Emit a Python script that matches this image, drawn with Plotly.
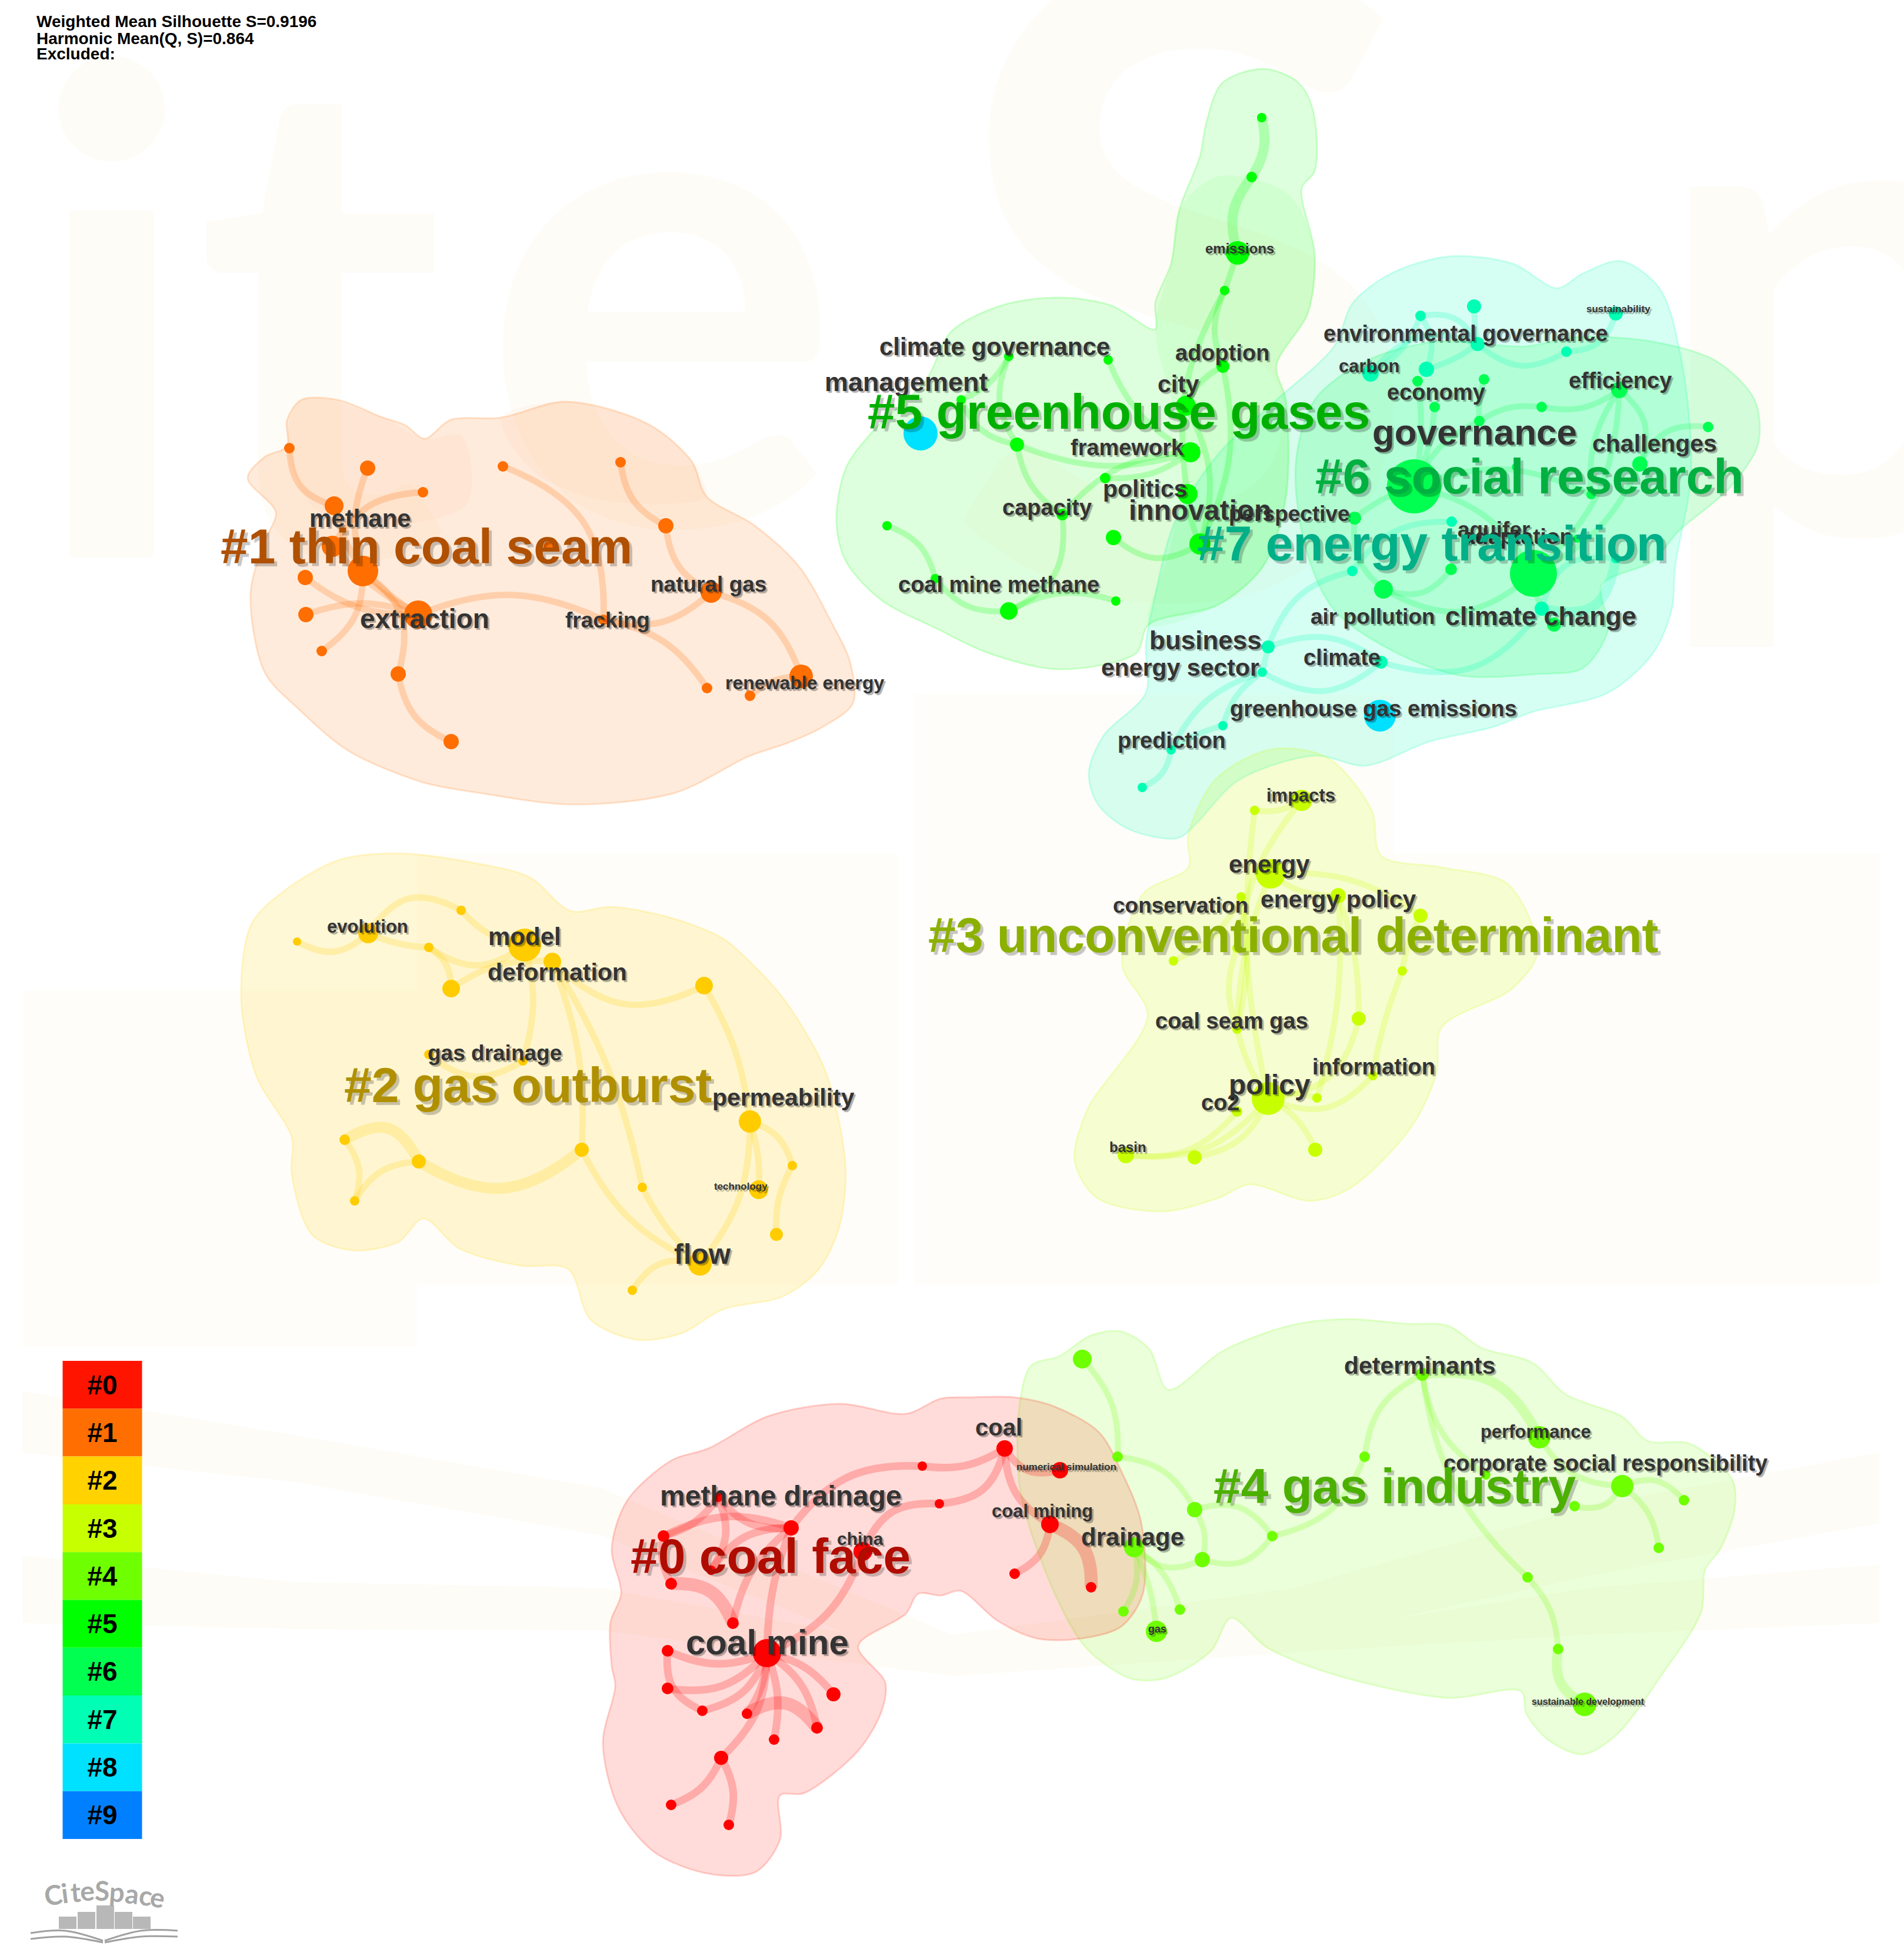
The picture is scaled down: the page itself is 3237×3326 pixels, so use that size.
import plotly.graph_objects as go

WIDTH = 3237
HEIGHT = 3326

# ---- cluster 0 (red) : nodes, links, hull
c0_x = [1304, 1345, 1128, 1141, 1246, 1209, 1221, 1135, 1135, 1194, 1270, 1316, 1389, 1417, 1226, 1141, 1239, 1467, 1568, 1597, 1708, 1802, 1785, 1725, 1855]
c0_y = [2811, 2598, 2612, 2693, 2760, 2670, 2546, 2807, 2871, 2909, 2914, 2958, 2938, 2881, 2989, 3069, 3103, 2638, 2493, 2557, 2463, 2500, 2592, 2676, 2699]
c0_r = [24, 13, 10, 10, 10, 8, 8, 10, 10, 9, 9, 9, 10, 12, 12, 9, 9, 16, 8, 8, 14, 14, 15, 9, 9]
c0_src = [0, 0, 0, 0, 0, 0, 0, 0, 7, 10, 14, 14, 4, 4, 2, 2, 6, 5, 5, 3, 0, 1, 18, 19, 17, 19, 20, 20, 22, 22]
c0_dst = [7, 8, 9, 10, 11, 12, 13, 14, 9, 12, 15, 16, 3, 1, 1, 6, 1, 1, 6, 2, 1, 18, 20, 17, 0, 20, 21, 22, 23, 24]
c0_bend = [-.12, -.15, -.15, -.08, -.08, -.12, -.1, -.12, .2, -.25, -.12, -.12, .2, -.1, -.12, .1, .15, -.15, .15, -.1, -.05, -.15, .1, .2, -.12, .2, .2, .15, -.15, -.2]
c0_heavy = [9, 12, 29]
c0_hull_x = [1040, 1066, 1142, 1204, 1306, 1428, 1540, 1600, 1648, 1724, 1791, 1868, 1906, 1940, 1943, 1906, 1839, 1763, 1696, 1633, 1600, 1561, 1540, 1459, 1505, 1499, 1459, 1367, 1326, 1326, 1285, 1204, 1112, 1051, 1025, 1046, 1040, 1038, 1056]
c0_hull_y = [2634, 2552, 2483, 2463, 2408, 2387, 2404, 2378, 2376, 2376, 2391, 2435, 2501, 2588, 2710, 2766, 2786, 2786, 2756, 2705, 2713, 2710, 2744, 2799, 2861, 2909, 2977, 3049, 3053, 3128, 3183, 3186, 3149, 3073, 2963, 2867, 2833, 2758, 2710]

# ---- cluster 1 (orange)
c1_x = [492, 625, 719, 568, 565, 617, 519, 520, 547, 711, 677, 767, 855, 1055, 1132, 1209, 1026, 1202, 1275, 1362, 933]
c1_y = [762, 796, 837, 860, 929, 971, 982, 1045, 1107, 1045, 1146, 1261, 793, 786, 894, 1007, 1054, 1170, 1183, 1150, 929]
c1_r = [9, 13, 9, 16, 18, 26, 13, 13, 9, 24, 13, 13, 9, 9, 13, 18, 9, 9, 9, 20, 9]
c1_src = [0, 1, 2, 3, 4, 5, 6, 7, 8, 5, 10, 9, 12, 16, 16, 13, 14, 15, 18]
c1_dst = [3, 5, 4, 5, 9, 9, 9, 9, 5, 10, 11, 16, 16, 17, 15, 14, 15, 19, 19]
c1_bend = [.2, .1, .15, .05, .05, .03, .1, -.1, .15, -.2, .15, -.12, -.2, -.12, .15, .15, .15, -.15, -.1]
c1_heavy = []
c1_hull_x = [512, 574, 651, 689, 722, 766, 852, 957, 1053, 1120, 1177, 1201, 1282, 1359, 1416, 1445, 1450, 1397, 1340, 1273, 1148, 976, 813, 718, 593, 507, 450, 426, 450, 469, 421, 450, 488, 488]
c1_hull_y = [680, 680, 710, 723, 746, 714, 710, 683, 701, 732, 786, 844, 893, 964, 1063, 1125, 1196, 1237, 1263, 1286, 1348, 1368, 1348, 1330, 1277, 1205, 1143, 1009, 920, 871, 813, 777, 759, 714]
c1_lobe_a_x = [512, 651, 722, 785, 794, 651, 536, 488]
c1_lobe_a_y = [680, 710, 746, 741, 857, 893, 866, 759]
c1_lobe_b_x = [852, 957, 1053, 1120, 1177, 1201, 1129, 1014, 909]
c1_lobe_b_y = [710, 683, 701, 732, 786, 844, 857, 848, 804]

# ---- cluster 2 (yellow)
c2_x = [505, 626, 784, 729, 892, 939, 767, 1197, 889, 729, 1275, 1347, 1290, 1320, 1190, 1075, 1092, 989, 712, 586, 603]
c2_y = [1601, 1587, 1548, 1611, 1607, 1635, 1681, 1676, 1804, 1793, 1907, 1982, 2023, 2099, 2149, 2194, 2019, 1955, 1975, 1938, 2042]
c2_r = [7, 17, 8, 8, 28, 15, 15, 15, 8, 8, 19, 8, 16, 11, 20, 8, 8, 12, 12, 9, 8]
c2_src = [0, 1, 1, 3, 2, 3, 6, 5, 4, 8, 5, 7, 10, 10, 10, 11, 17, 5, 16, 15, 17, 18, 19, 18]
c2_dst = [1, 2, 3, 4, 4, 6, 5, 7, 8, 9, 17, 10, 14, 12, 11, 13, 14, 16, 14, 14, 18, 19, 20, 20]
c2_bend = [.2, -.25, .05, .2, .1, -.15, -.1, .2, -.08, -.2, -.06, -.06, -.1, -.05, -.15, .08, .1, -.05, .05, -.2, -.2, .3, -.15, .15]
c2_heavy = [20, 21]
c2_hull_x = [479, 574, 677, 815, 901, 970, 1039, 1142, 1228, 1263, 1332, 1400, 1426, 1438, 1426, 1392, 1332, 1228, 1159, 1082, 1004, 966, 884, 781, 720, 677, 600, 531, 496, 496, 436, 410, 427]
c2_hull_y = [1518, 1463, 1451, 1469, 1492, 1549, 1542, 1561, 1595, 1624, 1698, 1813, 1905, 1997, 2089, 2158, 2204, 2227, 2267, 2278, 2244, 2158, 2152, 2123, 2072, 2112, 2126, 2100, 1997, 1934, 1830, 1698, 1572]

# ---- cluster 3 (lime)
c3_x = [2160, 2213, 2133, 2110, 2275, 2415, 2103, 1995, 2384, 2310, 2103, 2156, 2239, 2334, 2103, 1914, 2031, 2236]
c3_y = [1486, 1361, 1378, 1525, 1523, 1557, 1612, 1634, 1651, 1732, 1750, 1868, 1867, 1829, 1890, 1964, 1968, 1955]
c3_r = [25, 18, 8, 8, 13, 12, 8, 8, 8, 12, 8, 28, 8, 8, 9, 14, 12, 12]
c3_src = [1, 2, 1, 0, 4, 0, 5, 8, 9, 6, 10, 0, 3, 7, 11, 14, 11, 11, 13, 12, 4]
c3_dst = [2, 11, 6, 4, 12, 5, 8, 13, 11, 10, 11, 10, 10, 3, 15, 15, 16, 17, 11, 11, 9]
c3_bend = [-.1, .05, .08, .1, -.05, -.1, .05, .03, -.2, .1, .05, .05, -.06, .1, -.15, -.15, -.15, -.1, -.2, .1, -.05]
c3_heavy = []
c3_hull_x = [2020, 2067, 2162, 2258, 2332, 2348, 2451, 2563, 2614, 2571, 2451, 2442, 2399, 2296, 2227, 2124, 2072, 1977, 1865, 1827, 1848, 1951, 1908, 1943, 2020]
c3_hull_y = [1420, 1325, 1274, 1289, 1378, 1455, 1475, 1503, 1618, 1681, 1747, 1825, 1917, 2020, 2042, 2014, 2037, 2060, 2037, 1974, 1888, 1727, 1641, 1520, 1475]

# ---- cluster 4 (yellow green)
c4_x = [1840, 1900, 2031, 1928, 2044, 2163, 2320, 2418, 2617, 2526, 2758, 2677, 2863, 2820, 2597, 2649, 2694, 1910, 2006, 1966]
c4_y = [2311, 2477, 2567, 2631, 2652, 2612, 2477, 2337, 2444, 2508, 2527, 2561, 2551, 2632, 2682, 2804, 2898, 2740, 2737, 2774]
c4_r = [16, 9, 13, 17, 13, 9, 9, 11, 19, 8, 19, 9, 9, 9, 9, 9, 20, 9, 9, 18]
c4_src = [0, 1, 2, 2, 3, 4, 5, 6, 7, 7, 8, 7, 14, 15, 10, 10, 10, 3, 3, 3]
c4_dst = [1, 2, 4, 5, 4, 5, 6, 7, 8, 9, 10, 14, 15, 16, 11, 12, 13, 17, 18, 19]
c4_bend = [-.12, -.15, -.12, -.2, .2, .2, .15, -.15, -.2, .12, .15, .1, -.1, .2, -.2, -.2, -.12, -.12, -.1, -.05]
c4_heavy = [8, 13]
c4_hull_x = [1734, 1753, 1801, 1854, 1906, 1954, 1986, 2079, 2193, 2289, 2394, 2461, 2519, 2605, 2662, 2758, 2801, 2873, 2945, 2949, 2925, 2899, 2892, 2825, 2748, 2691, 2634, 2595, 2586, 2461, 2270, 2155, 2093, 2059, 1983, 1925, 1868, 1834, 1782, 1734]
c4_hull_y = [2384, 2322, 2306, 2271, 2264, 2294, 2363, 2297, 2254, 2243, 2251, 2254, 2292, 2317, 2371, 2409, 2450, 2455, 2516, 2567, 2633, 2669, 2741, 2848, 2950, 2983, 2960, 2914, 2876, 2887, 2848, 2802, 2751, 2807, 2853, 2855, 2822, 2786, 2684, 2531]

# ---- cluster 5 (green)
c5_x = [2145, 2128, 2104, 2082, 2079, 2016, 1715, 1884, 1634, 1729, 2024, 2019, 1879, 1806, 1893, 2040, 1508, 1590, 1715, 1897]
c5_y = [200, 301, 430, 494, 623, 690, 606, 612, 680, 756, 769, 840, 813, 875, 914, 925, 894, 984, 1039, 1022]
c5_r = [8, 9, 20, 8, 11, 17, 8, 8, 8, 12, 17, 17, 9, 10, 13, 18, 8, 8, 15, 8]
c5_src = [0, 1, 2, 3, 4, 3, 5, 4, 6, 6, 8, 9, 7, 9, 12, 13, 13, 16, 17, 18, 14, 11]
c5_dst = [1, 2, 3, 4, 15, 11, 15, 5, 8, 9, 9, 10, 10, 13, 10, 10, 18, 17, 18, 19, 15, 15]
c5_bend = [-.12, .15, 0, .12, -.1, .1, -.12, .1, -.1, .15, .15, .1, .1, .12, .1, -.12, -.2, -.15, .15, -.12, .2, .05]
c5_heavy = [0, 1]
c5_hull_x = [1422, 1438, 1487, 1574, 1617, 1704, 1801, 1888, 1964, 1964, 1991, 2005, 2040, 2051, 2078, 2148, 2208, 2233, 2235, 2213, 2235, 2224, 2170, 2186, 2186, 2148, 2072, 1953, 1931, 1801, 1682, 1595, 1498, 1438]
c5_hull_y = [888, 796, 730, 647, 564, 519, 506, 519, 560, 515, 448, 357, 266, 208, 141, 117, 141, 191, 291, 320, 432, 531, 622, 680, 846, 962, 1028, 1062, 1111, 1138, 1111, 1070, 1020, 954]
c5_lobe_x = [1964, 1991, 2005, 2070, 2190, 2235, 2224, 2170, 2186, 2186, 2148, 2072, 1953, 1990, 2010]
c5_lobe_y = [560, 448, 357, 300, 330, 432, 531, 622, 680, 846, 962, 1028, 1062, 930, 760]

# ---- cluster 6 (spring green)
c6_x = [2404, 2607, 2352, 2467, 2410, 2523, 2439, 2515, 2621, 2753, 2788, 2705, 2904, 2303, 2642, 2576, 2681]
c6_y = [827, 975, 1002, 968, 648, 645, 692, 716, 692, 663, 789, 841, 726, 881, 1062, 794, 916]
c6_r = [46, 40, 16, 10, 9, 9, 9, 9, 9, 14, 13, 8, 9, 11, 12, 6, 7]
c6_src = [0, 0, 0, 0, 0, 13, 2, 2, 8, 7, 9, 9, 12, 10, 1, 11, 0, 5]
c6_dst = [1, 4, 6, 7, 13, 2, 3, 1, 9, 8, 10, 1, 10, 1, 14, 9, 11, 7]
c6_bend = [-.12, .05, .05, -.1, .05, .15, .2, .2, .12, -.1, -.2, -.12, .2, -.1, .1, -.1, -.12, .05]
c6_heavy = []
c6_hull_x = [2203, 2235, 2322, 2441, 2593, 2680, 2810, 2918, 2983, 2989, 2940, 2853, 2810, 2723, 2734, 2691, 2615, 2485, 2376, 2268, 2219]
c6_hull_y = [788, 680, 614, 581, 589, 573, 581, 614, 680, 755, 830, 904, 954, 995, 1070, 1136, 1146, 1149, 1111, 1037, 929]

# ---- cluster 7 (teal)
c7_x = [2506, 2415, 2512, 2425, 2330, 2663, 2747, 2468, 2299, 2621, 2747, 2156, 2348, 2146, 2079, 1991, 1942]
c7_y = [521, 537, 585, 628, 635, 598, 533, 887, 971, 1035, 950, 1100, 1126, 1143, 1234, 1275, 1339]
c7_r = [12, 9, 12, 13, 14, 9, 12, 9, 9, 12, 8, 11, 11, 8, 8, 8, 8]
c7_src = [0, 1, 1, 3, 4, 4, 2, 5, 7, 8, 11, 11, 13, 12, 9, 9, 13, 14, 15, 13]
c7_dst = [2, 2, 3, 2, 2, 1, 5, 6, 8, 11, 13, 12, 12, 9, 10, 10, 14, 15, 16, 15]
c7_bend = [.02, -.2, -.15, .05, -.2, .1, .2, .2, .15, .15, 0, -.15, .2, .2, -.25, .3, .1, .05, -.15, .12]
c7_heavy = [15]
c7_hull_x = [1851, 1876, 1948, 1948, 1964, 1997, 2072, 2170, 2268, 2300, 2365, 2463, 2571, 2647, 2691, 2756, 2821, 2859, 2875, 2848, 2842, 2810, 2734, 2604, 2539, 2430, 2322, 2235, 2105, 2035, 2003, 1919, 1866]
c7_hull_y = [1314, 1251, 1178, 1095, 1012, 888, 771, 680, 589, 515, 465, 436, 448, 490, 465, 444, 490, 614, 805, 962, 1037, 1111, 1178, 1211, 1236, 1261, 1302, 1285, 1327, 1399, 1425, 1410, 1367]

# two blue nodes of cluster 8
c8_x = [1565, 2346]
c8_y = [737, 1217]
c8_r = [29, 27]

# ---- texts
label_text = ["methane", "extraction", "fracking", "natural gas", "renewable energy",
              "evolution", "model", "deformation", "gas drainage", "permeability", "technology", "flow",
              "energy", "conservation", "energy policy", "coal seam gas", "information", "policy", "co2", "basin", "impacts",
              "climate governance", "management", "adoption", "city", "framework", "politics", "adaptation", "innovation", "perspective", "capacity", "coal mine methane", "emissions",
              "environmental governance", "sustainability", "carbon", "economy", "efficiency", "governance", "challenges", "aquifer",
              "air pollution", "climate change", "business", "energy sector", "climate", "greenhouse gas emissions", "prediction",
              "methane drainage", "china", "coal mine", "coal", "numerical simulation", "coal mining", "drainage", "gas",
              "determinants", "performance", "corporate social responsibility", "sustainable development"]
label_x = [612, 722, 1033, 1204, 1368,
           625, 892, 947, 841, 1332, 1259, 1194,
           2158, 2007, 2275, 2094, 2335, 2158, 2074, 1917, 2211,
           1691, 1541, 2078, 2003, 1916, 1947, 2580, 2040, 2192, 1780, 1698, 2107,
           2492, 2751, 2327, 2441, 2754, 2507, 2813, 2539,
           2334, 2619, 2049, 2006, 2281, 2335, 1992,
           1327, 1462, 1304, 1698, 1813, 1772, 1925, 1967,
           2413, 2611, 2729, 2700]
label_y = [881, 1052, 1054, 993, 1161,
           1575, 1592, 1653, 1790, 1866, 2017, 2132,
           1469, 1539, 1529, 1736, 1814, 1844, 1875, 1950, 1352,
           589, 649, 600, 653, 761, 831, 912, 867, 873, 863, 994, 422,
           567, 525, 622, 667, 647, 734, 754, 900,
           1048, 1047, 1088, 1135, 1118, 1205, 1259,
           2543, 2616, 2792, 2427, 2494, 2569, 2613, 2770,
           2322, 2434, 2488, 2893]
label_size = [42, 46, 37, 37, 32,
              31, 42, 41, 37, 41, 17, 48,
              42, 37, 41, 38, 38, 48, 38, 24, 31,
              42, 45, 38, 41, 38, 41, 37, 48, 37, 38, 38, 24,
              38, 17, 31, 38, 38, 62, 41, 37,
              37, 45, 44, 41, 38, 38, 38,
              48, 30, 60, 40, 17, 31, 42, 18,
              41, 31, 38, 16]

cluster_text = ["#0 coal face", "#1 thin coal seam", "#2 gas outburst", "#3 unconventional determinant",
                "#4 gas industry", "#5 greenhouse gases", "#6 social research", "#7 energy transition"]
cluster_x = [1310, 725, 897, 2199, 2371, 1902, 2600, 2434]
cluster_y = [2646, 929, 1845, 1590, 2527, 700, 810, 924]
cluster_size = [84, 84, 84, 84, 84, 84, 84, 84]
cluster_color = ["#b00c00", "#b05000", "#b09000", "#8cb000", "#4cb000", "#00b000", "#00b040", "#00b088"]

legend_names = ["#0", "#1", "#2", "#3", "#4", "#5", "#6", "#7", "#8", "#9"]
legend_colors = ["#ff1400", "#ff6e00", "#ffd200", "#c8ff00", "#6eff00", "#00ff00", "#00ff50", "#00ffb4", "#00e0ff", "#0080ff"]

summary_lines = ["Weighted Mean Silhouette S=0.9196", "Harmonic Mean(Q, S)=0.864", "Excluded:"]
summary_y = [36, 65, 91]

# watermark behind the map
mark_text = ["i", "t", "e", "S", "p"]
mark_x = [190, 545, 1124, 2014, 3130]
mark_y = [660, 660, 605, 640, 620]
mark_size = [1150, 1150, 1150, 1500, 1150]

logo_letters = list("CiteSpace")
logo_letter_x = [90, 110, 128, 148, 173, 199, 224, 248, 268]
logo_letter_y = [3221, 3218, 3216, 3214, 3214, 3216, 3219, 3222, 3225]
logo_letter_angle = [-8, -7, -5, -3, 1, 4, 6, 8, 10]
logo_x = [115, 147, 179, 210, 241]
logo_h = [21, 29, 40, 29, 21]
book_lines_x = [[52, 110, 175], [52, 110, 175], [178, 240, 302], [178, 240, 302]]
book_lines_y = [[3287, 3283, 3300], [3297, 3293, 3303], [3300, 3283, 3283], [3303, 3293, 3293]]

# faint book shape from the logo, bottom of the page
band1_x = [38, 500, 1020, 1620, 2200, 2700, 3195, 3195, 2700, 2200, 1620, 1020, 500, 38]
band1_y = [2365, 2440, 2530, 2780, 2700, 2560, 2470, 2590, 2680, 2790, 2850, 2610, 2520, 2470]
band2_x = [38, 500, 1020, 1620, 2200, 2700, 3195, 3195, 2700, 2200, 1620, 1020, 500, 38]
band2_y = [2645, 2690, 2700, 2810, 2780, 2700, 2660, 2760, 2780, 2810, 2850, 2772, 2770, 2760]
wash_rects = [(710, 1452, 1527, 2184), (38, 1685, 710, 2290), (1554, 1181, 2370, 2184), (2370, 1452, 3195, 2184)]

fig = go.Figure()

WASH = "#fefcf7"
for letter, mx, my, ms in zip(mark_text, mark_x, mark_y, mark_size):
    fig.add_trace(go.Scatter(x=[mx], y=[my], mode="text", text=[letter],
                             textfont=dict(family="Lato", size=ms, color=WASH, weight=700),
                             textposition="middle center"))

# hulls
hulls = [(c7_hull_x, c7_hull_y, "0,255,180", 0.16), (c6_hull_x, c6_hull_y, "0,255,80", 0.17),
         (c5_hull_x, c5_hull_y, "0,255,0", 0.13), (c5_lobe_x, c5_lobe_y, "0,255,0", 0.06),
         (c4_hull_x, c4_hull_y, "110,255,0", 0.14), (c3_hull_x, c3_hull_y, "200,255,0", 0.16),
         (c2_hull_x, c2_hull_y, "255,210,0", 0.16), (c1_hull_x, c1_hull_y, "255,110,0", 0.14),
         (c1_lobe_a_x, c1_lobe_a_y, "255,110,0", 0.03), (c1_lobe_b_x, c1_lobe_b_y, "255,110,0", 0.03),
         (c0_hull_x, c0_hull_y, "255,20,0", 0.15)]
for hx, hy, rgb, alpha in hulls:
    edge = 0.18 if alpha > 0.1 else 0
    fig.add_trace(go.Scatter(x=hx + hx[:1], y=hy + hy[:1], mode="lines", fill="toself",
                             fillcolor=f"rgba({rgb},{alpha})",
                             line=dict(color=f"rgba({rgb},{edge})", width=3, shape="spline", smoothing=0.9)))

# links and nodes per cluster
clusters = [
    (c7_x, c7_y, c7_r, c7_src, c7_dst, c7_bend, c7_heavy, "0,255,180", "#00ffb4", 10),
    (c6_x, c6_y, c6_r, c6_src, c6_dst, c6_bend, c6_heavy, "0,255,80", "#00ff50", 10),
    (c5_x, c5_y, c5_r, c5_src, c5_dst, c5_bend, c5_heavy, "0,255,0", "#00ff00", 10),
    (c4_x, c4_y, c4_r, c4_src, c4_dst, c4_bend, c4_heavy, "110,255,0", "#6eff00", 10),
    (c3_x, c3_y, c3_r, c3_src, c3_dst, c3_bend, c3_heavy, "200,255,0", "#c8ff00", 10),
    (c2_x, c2_y, c2_r, c2_src, c2_dst, c2_bend, c2_heavy, "255,205,0", "#ffcc00", 11),
    (c1_x, c1_y, c1_r, c1_src, c1_dst, c1_bend, c1_heavy, "255,110,0", "#ff6e00", 11),
    (c0_x, c0_y, c0_r, c0_src, c0_dst, c0_bend, c0_heavy, "255,0,0", "#ff0000", 13),
]
for nx, ny, nr, src, dst, bend, heavy, rgb, color, lw in clusters:
    for k, (s, d, b) in enumerate(zip(src, dst, bend)):
        dx, dy = nx[d] - nx[s], ny[d] - ny[s]
        mid_x = (nx[s] + nx[d]) / 2 - b * dy
        mid_y = (ny[s] + ny[d]) / 2 + b * dx
        w = lw * 1.7 if k in heavy else lw
        fig.add_trace(go.Scatter(x=[nx[s], mid_x, nx[d]], y=[ny[s], mid_y, ny[d]], mode="lines",
                                 line=dict(color=f"rgba({rgb},0.22)", width=w, shape="spline", smoothing=1.3)))
for nx, ny, nr, src, dst, bend, heavy, rgb, color, lw in clusters:
    fig.add_trace(go.Scatter(x=nx, y=ny, mode="markers",
                             marker=dict(color=color, opacity=1, size=[2 * r for r in nr], line=dict(width=0))))
fig.add_trace(go.Scatter(x=c8_x, y=c8_y, mode="markers",
                         marker=dict(color="#00e0ff", opacity=1, size=[2 * r for r in c8_r], line=dict(width=0))))

# colour key
key_top = 2314
key_step = 81.3
fig.add_trace(go.Bar(x=[174] * len(legend_names), y=[key_step] * len(legend_names),
                     base=[key_top + i * key_step for i in range(len(legend_names))],
                     width=135, marker=dict(color=legend_colors, line=dict(width=0)),
                     text=legend_names, textposition="inside", insidetextanchor="middle", textangle=0,
                     insidetextfont=dict(family="Liberation Sans", size=46, color="black", weight=700)))

# CiteSpace logo
fig.add_trace(go.Bar(x=logo_x, y=[-h for h in logo_h], base=[3280] * 5, width=30,
                     marker=dict(color="#b8b8b8", line=dict(width=0))))
for bx, by in zip(book_lines_x, book_lines_y):
    fig.add_trace(go.Scatter(x=bx, y=by, mode="lines",
                             line=dict(color="#a0a0a0", width=3, shape="spline")))

anns = []
for t, x, y, s in zip(label_text, label_x, label_y, label_size):
    anns.append(dict(text=t, x=x, y=y, xref="x", yref="y", showarrow=False, xanchor="center", yanchor="middle",
                     font=dict(family="Liberation Sans", size=s, color="#333333", weight=700,
                               shadow="3px 3px 1px rgba(0,0,0,0.3)")))
for t, x, y, s, c in zip(cluster_text, cluster_x, cluster_y, cluster_size, cluster_color):
    anns.append(dict(text=t, x=x, y=y, xref="x", yref="y", showarrow=False, xanchor="center", yanchor="middle",
                     font=dict(family="Liberation Sans", size=s, color=c, weight=700,
                               shadow="5px 5px 1px rgba(0,0,0,0.22)")))
for line, ly in zip(summary_lines, summary_y):
    anns.append(dict(text=line, x=60, y=ly, xref="x", yref="y", showarrow=False, xanchor="left",
                     yanchor="middle", font=dict(family="Liberation Sans", size=28, color="black", weight=700)))
for ch, lx, ly, la in zip(logo_letters, logo_letter_x, logo_letter_y, logo_letter_angle):
    anns.append(dict(text=ch, x=lx, y=ly, xref="x", yref="y", showarrow=False, textangle=la,
                     font=dict(family="Lato", size=46, color="#a8a8a8", weight=700)))

# faint squares and bands of the watermark sit under everything
shapes = [dict(type="rect", x0=a, y0=b, x1=c, y1=d, layer="below", line=dict(width=0), fillcolor="#fffdf9")
          for a, b, c, d in wash_rects]
for bx, by in [(band1_x, band1_y), (band2_x, band2_y)]:
    path = "M " + " L ".join(f"{a} {b}" for a, b in zip(bx, by)) + " Z"
    shapes.append(dict(type="path", path=path, layer="below", line=dict(width=0), fillcolor="#fefcf6"))

fig.update_layout(width=WIDTH, height=HEIGHT, margin=dict(l=0, r=0, t=0, b=0), showlegend=False,
                  paper_bgcolor="white", plot_bgcolor="rgba(0,0,0,0)", barmode="overlay",
                  xaxis=dict(range=[0, WIDTH], visible=False, fixedrange=True),
                  yaxis=dict(range=[HEIGHT, 0], visible=False, fixedrange=True),
                  annotations=anns, shapes=shapes)
fig.write_html("out.html", post_script="document.body.style.margin='0';", config={"displayModeBar": False})
